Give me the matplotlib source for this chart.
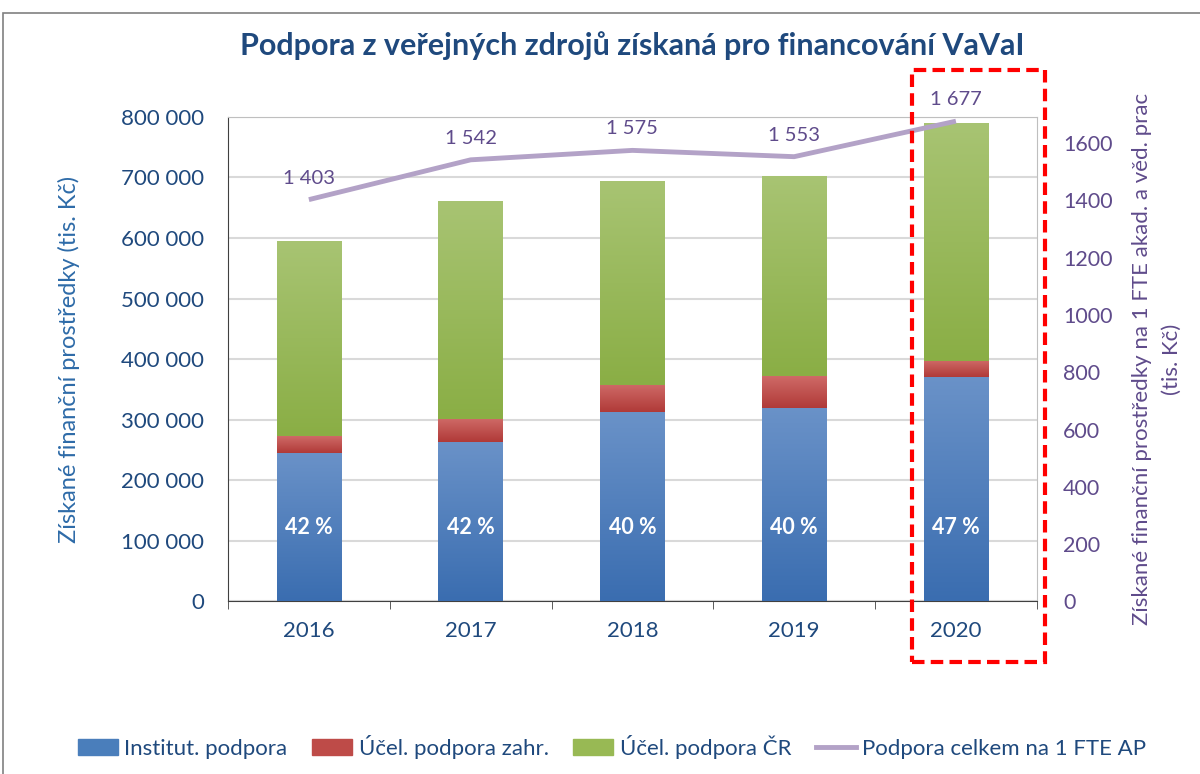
import matplotlib
matplotlib.use("Agg")
from matplotlib import pyplot as plt
from matplotlib.patches import Rectangle, Patch
from matplotlib.lines import Line2D
from matplotlib.colors import LinearSegmentedColormap
from matplotlib.ticker import FuncFormatter
import numpy as np

plt.rcParams['font.family'] = ['Lato', 'DejaVu Sans']

# data (tis. Kč)
years = ['2016', '2017', '2018', '2019', '2020']
institut = [245000, 263000, 312000, 320000, 370000]
ucel_zahr = [28000, 38000, 45000, 52000, 27000]
ucel_cr = [322000, 360000, 337000, 330000, 393000]
na_fte = [1403, 1542, 1575, 1553, 1677]
podil = ['42 %', '42 %', '40 %', '40 %', '47 %']

c_blue = '#4A7EBB'
c_red = '#BE4B48'
c_green = '#98B954'
c_line = '#B3A2C7'
c_dark = '#1F497D'
c_purple = '#5F4B8B'

# gradient top -> bottom for each series
grad = {
    'blue': ('#6A92C8', '#3A6DB0'),
    'red': ('#CF6A67', '#B03A38'),
    'green': ('#A8C473', '#8AAE45'),
}

fig = plt.figure(figsize=(12, 7.74), dpi=100)
ax = fig.add_axes([0.19, 0.223, 0.674, 0.626])
ax2 = ax.twinx()

x = np.arange(len(years))
w = 0.4
b1 = np.array(institut)
b2 = b1 + np.array(ucel_zahr)


def grad_bars(bars, key):
    cmap = LinearSegmentedColormap.from_list(key, [grad[key][1], grad[key][0]])
    g = np.linspace(0, 1, 256).reshape(-1, 1)
    for b in bars:
        b.set_facecolor('none')
        x0, y0 = b.get_x(), b.get_y()
        im = ax.imshow(g, cmap=cmap, origin='lower', aspect='auto', zorder=3,
                       extent=[x0, x0 + b.get_width(), y0, y0 + b.get_height()])
        im.set_clip_path(b)


bars1 = ax.bar(x, institut, w, color=c_blue, zorder=3)
bars2 = ax.bar(x, ucel_zahr, w, bottom=b1, color=c_red, zorder=3)
bars3 = ax.bar(x, ucel_cr, w, bottom=b2, color=c_green, zorder=3)
grad_bars(bars1, 'blue')
grad_bars(bars2, 'red')
grad_bars(bars3, 'green')

for i in range(len(years)):
    ax.text(x[i], 122000, podil[i], ha='center', va='center', color='white',
            fontsize=15.5, fontweight='bold', zorder=4)

ax.set_xlim(-0.5, 4.5)
ax.set_ylim(0, 800000)
ax.set_yticks(np.arange(0, 800001, 100000))
ax.yaxis.set_major_formatter(FuncFormatter(lambda v, p: '{:,.0f}'.format(v).replace(',', ' ')))
ax.set_xticks(x)
ax.set_xticklabels(years)
ax.set_xticks(np.arange(-0.5, 5, 1), minor=True)
ax.tick_params(axis='x', which='major', length=0, pad=14, labelsize=16, labelcolor=c_dark)
ax.tick_params(axis='x', which='minor', length=6, color='#404040', direction='out')
ax.tick_params(axis='y', length=0, pad=17, labelsize=16, labelcolor=c_dark)
ax.grid(axis='y', color='#D9D9D9', lw=1.5, zorder=0)
for s in ['top', 'right']:
    ax.spines[s].set_color('#BFBFBF')
ax.spines['left'].set_color('#404040')
ax.spines['bottom'].set_color('#404040')
ax.set_ylabel('Získané finanční prostředky (tis. Kč)', color='#2E6BA8', fontsize=17, labelpad=30)

ax2.plot(x, na_fte, color=c_line, lw=3.5, zorder=5, solid_capstyle='butt')
for i in range(len(years)):
    ax2.text(x[i], na_fte[i] + 75, '{:,}'.format(na_fte[i]).replace(',', ' '),
             ha='center', va='center', color=c_purple, fontsize=14.5)
ax2.set_ylim(0, 1692)
ax2.set_yticks(np.arange(0, 1601, 200))
ax2.tick_params(axis='y', length=0, pad=19, labelsize=15.5, labelcolor=c_purple)
for s in ax2.spines.values():
    s.set_visible(False)
ax2.set_ylabel('Získané finanční prostředky na 1 FTE akad. a věd. prac\n(tis. Kč)',
               color=c_purple, fontsize=16, labelpad=14, linespacing=1.6)

fig.suptitle('Podpora z veřejných zdrojů získaná pro financování VaVaI', x=0.527, y=0.96,
             color=c_dark, fontsize=22, fontweight='bold')

# highlight 2020
fig.patches.append(Rectangle((912 / 1200, 1 - 662 / 774), 133 / 1200, 592 / 774,
                             transform=fig.transFigure, fill=False, ec='#FF0000',
                             lw=3, ls=(0, (3, 1.5)), zorder=10))
# chart frame
fig.patches.append(Rectangle((3 / 1200, -0.01), 1.1, 1 - 13 / 774 + 0.01,
                             transform=fig.transFigure, fill=False, ec='#808080', lw=1.2))

handles = [Patch(color=c_blue), Patch(color=c_red), Patch(color=c_green),
           Line2D([0], [0], color=c_line, lw=3.5)]
labels = ['Institut. podpora', 'Účel. podpora zahr.', 'Účel. podpora ČR', 'Podpora celkem na 1 FTE AP']
leg = fig.legend(handles, labels, loc='center', bbox_to_anchor=(0.51, 1 - 747 / 774), ncol=4,
                 frameon=False, fontsize=16, handlelength=1.8, handletextpad=0.3, columnspacing=1.1)
for t in leg.get_texts():
    t.set_color(c_dark)

fig.savefig('out.png', dpi=100)
